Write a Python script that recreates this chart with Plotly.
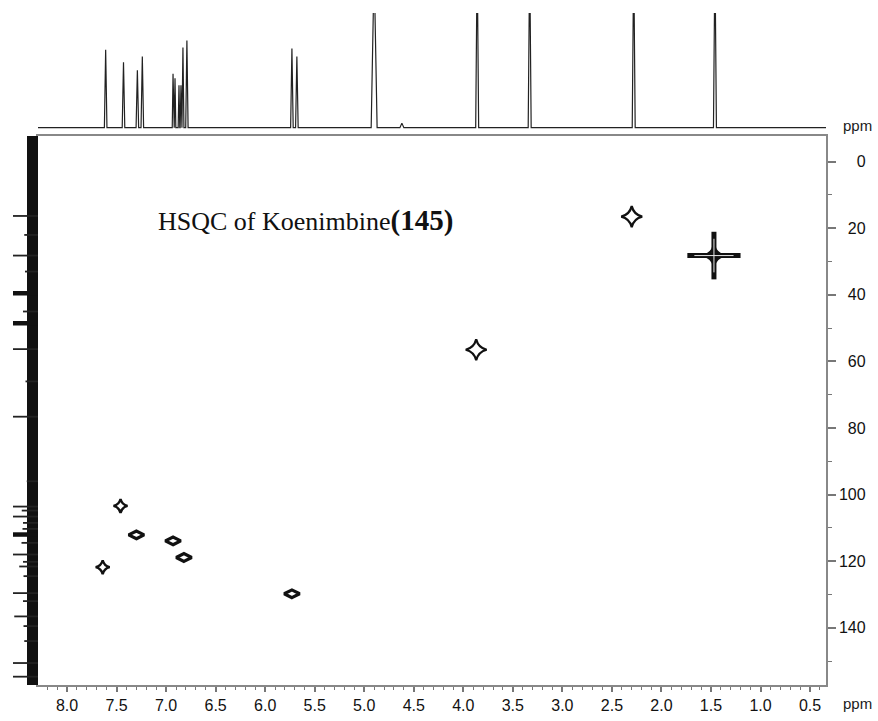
import plotly.graph_objects as go

W, H = 878, 721

# ---------------- data ----------------
# 1H projection (top): chemical shift (ppm) and relative intensity (100 = clip level)
h_ppm = [7.61, 7.43, 7.29, 7.24, 6.93, 6.91, 6.87, 6.85, 6.83, 6.79, 5.73, 5.68, 4.90, 4.62, 3.86, 3.33, 2.28, 1.46]
h_int = [68, 57, 50, 62, 47, 43, 37, 37, 70, 76, 69, 62, 140, 4, 150, 150, 150, 150]
h_halfwidth = [0.013, 0.013, 0.013, 0.013, 0.008, 0.008, 0.008, 0.008, 0.010, 0.012, 0.013, 0.013, 0.03, 0.02, 0.015, 0.015, 0.015, 0.015]

# 13C projection (left): shift (ppm) and relative intensity (100 = clip level)
c_ppm = [16.3, 28.2, 56.3, 76.6, 103.6, 106.6, 118.0, 121.6, 129.6, 136.6, 150.6, 154.7,
         104.8, 108.5, 110.3, 114.5, 120.2, 124.5, 132.0, 139.5, 144.0, 96.0, 66.0, 22.0, 33.0, 45.0]
c_int = [120, 115, 110, 110, 115, 110, 105, 75, 110, 95, 110, 100,
         65, 60, 62, 66, 60, 58, 60, 58, 55, 45, 50, 55, 52, 60]
c_ppm_strong = [39.5, 48.5, 112.0]
c_int_strong = [130, 130, 120]
c_noise = 44

# HSQC cross peaks (1H ppm, 13C ppm)
star_h, star_c = [2.30, 3.87], [16.5, 56.5]
big_h, big_c = [1.47], [28.2]
diam_h, diam_c = [7.46, 7.64], [103.4, 121.8]
ell_h, ell_c = [7.30, 6.93, 6.82, 5.73], [112.1, 113.9, 118.9, 129.8]

x_range = [8.293, 0.339]
y_range = [157.2, -7.72]

y_labels = {0: "\u2007\u20070", 20: "\u200720", 40: "\u200740", 60: "\u200760",
            80: "\u200780", 100: "100", 120: "120", 140: "140"}

# ---------------- helpers ----------------
def px(x):
    return x / W

def py(y):
    return 1 - y / H

fig = go.Figure()

# top 1H spectrum
order = sorted(range(len(h_ppm)), key=lambda i: -h_ppm[i])
tx, ty = [x_range[0]], [0]
for i in order:
    p, h, w = h_ppm[i], h_int[i], h_halfwidth[i]
    tx += [p + w, p, p - w]
    ty += [0, h, 0]
tx.append(x_range[1]); ty.append(0)
fig.add_trace(go.Scatter(x=tx, y=ty, xaxis="x2", yaxis="y2", mode="lines",
                         line=dict(color="#222", width=1.2), hoverinfo="skip", showlegend=False))

# left 13C projection: noise band + spikes
fig.add_trace(go.Scatter(x=[0, c_noise, c_noise, 0, 0],
                         y=[y_range[1], y_range[1], y_range[0], y_range[0], y_range[1]],
                         xaxis="x3", yaxis="y", mode="lines", fill="toself",
                         fillcolor="#111", line=dict(width=0), hoverinfo="skip", showlegend=False))
sx, sy = [], []
for p, v in zip(c_ppm, c_int):
    sx += [0, v, None]; sy += [p, p, None]
fig.add_trace(go.Scatter(x=sx, y=sy, xaxis="x3", yaxis="y", mode="lines",
                         line=dict(color="#222", width=1.8), hoverinfo="skip", showlegend=False))
sx, sy = [], []
for p, v in zip(c_ppm_strong, c_int_strong):
    sx += [0, v, None]; sy += [p, p, None]
fig.add_trace(go.Scatter(x=sx, y=sy, xaxis="x3", yaxis="y", mode="lines",
                         line=dict(color="#111", width=4.5), hoverinfo="skip", showlegend=False))

# cross peaks
def peaks(x, y, symbol, size, width, color="#111"):
    fig.add_trace(go.Scatter(x=x, y=y, mode="markers", xaxis="x", yaxis="y",
                             marker=dict(symbol=symbol, size=size, color=color,
                                         line=dict(color=color, width=width)),
                             hoverinfo="skip", showlegend=False))

# large methyl cross peak: thick cross with a light inner contour
peaks(big_h, big_c, "line-ew-open", 38, 5)
peaks(big_h, big_c, "line-ns-open", 34, 5)
peaks(big_h, big_c, "star-diamond-open", 14, 3)
peaks(big_h, big_c, "line-ew-open", 28, 1, "#e8e8e8")
peaks(big_h, big_c, "line-ns-open", 24, 1, "#e8e8e8")
peaks(star_h, star_c, "star-diamond-open", 15, 2.2)
peaks(diam_h, diam_c, "star-diamond-open", 10, 2.4)
peaks(ell_h, ell_c, "diamond-wide-open", 11, 3.2)

tickfont = dict(family="Liberation Sans, Arial, sans-serif", size=16, color="#111")

fig.update_layout(
    width=W, height=H,
    margin=dict(l=0, r=0, t=0, b=0),
    paper_bgcolor="white", plot_bgcolor="white",
    xaxis=dict(domain=[px(38), px(826)], range=x_range, anchor="y",
               showline=True, linecolor="#888", linewidth=1.5, mirror=True,
               ticks="outside", ticklen=5, tickwidth=1.5, tickcolor="#777",
               tick0=0, dtick=0.5, tickformat=".1f", tickfont=tickfont,
               minor=dict(dtick=0.1, ticks="outside", ticklen=3, tickcolor="#777", tickwidth=1.2),
               showgrid=False, zeroline=False),
    yaxis=dict(domain=[py(685), py(136)], range=y_range, anchor="x", side="right",
               showline=True, linecolor="#888", linewidth=1.5, mirror=True,
               ticks="outside", ticklen=8, tickwidth=1.5, tickcolor="#777",
               tick0=0, dtick=20, tickfont=tickfont, labelalias=y_labels,
               minor=dict(dtick=10, ticks="outside", ticklen=4, tickcolor="#777", tickwidth=1.2),
               showgrid=False, zeroline=False),
    xaxis2=dict(domain=[px(38), px(826)], range=x_range, anchor="y2", visible=False),
    yaxis2=dict(domain=[py(130), py(13)], range=[-2, 100], anchor="x2", visible=False),
    xaxis3=dict(domain=[px(13), px(38)], range=[100, 0], anchor="y", visible=False),
    annotations=[
        dict(text='HSQC of Koenimbine<span style="font-size:29px"><b>(145)</b></span>',
             xref="paper", yref="paper", x=px(156), y=py(221), xanchor="left", yanchor="middle",
             showarrow=False, font=dict(family="Liberation Serif, Times New Roman, serif", size=26, color="#111")),
        dict(text="ppm", xref="paper", yref="paper", x=px(857), y=py(703), xanchor="center",
             yanchor="middle", showarrow=False, font=dict(family="Liberation Sans, Arial", size=15, color="#1a1a1a")),
        dict(text="ppm", xref="paper", yref="paper", x=px(857), y=py(125), xanchor="center",
             yanchor="middle", showarrow=False, font=dict(family="Liberation Sans, Arial", size=15, color="#1a1a1a")),
    ],
)

fig.write_html("out.html", config={"displayModeBar": False},
               post_script="document.body.style.margin='0';document.body.style.overflow='hidden';")
